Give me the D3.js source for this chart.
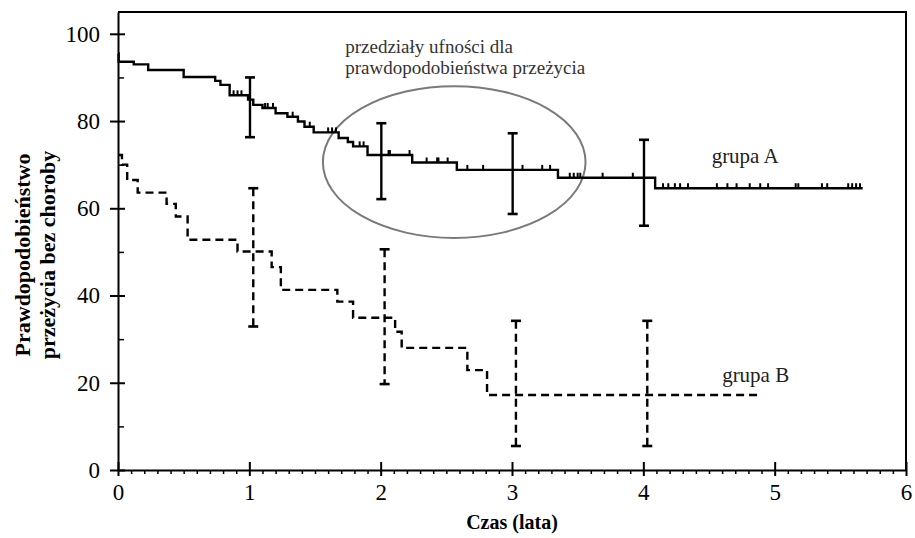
<!DOCTYPE html>
<html>
<head>
<meta charset="utf-8">
<script src="https://cdn.jsdelivr.net/npm/d3@7"></script>
<style>
  body { margin: 0; background: #fff; }
  svg text { font-family: "Liberation Serif", Tinos, "Times New Roman", "DejaVu Serif", serif; }
</style>
</head>
<body>
<script>
//Taille du graphe
var larg = 915;
var haut = 538;
var serif = "'Liberation Serif', Tinos, 'Times New Roman', 'DejaVu Serif', serif";

// grupa A : moments des paliers et survie (%)
var timesA = [0, 0.005, 0.12, 0.23, 0.5, 0.74, 0.78, 0.85, 0.99, 1.03, 1.1, 1.2, 1.29, 1.37, 1.42, 1.49, 1.68, 1.75, 1.79, 1.9, 2.24, 2.58, 3.35, 4.09, 5.67];
var survA  = [95.5, 93.6, 93.0, 91.7, 90.1, 89.2, 88.3, 85.9, 84.9, 83.7, 83.0, 81.8, 81.0, 79.9, 78.7, 77.4, 76.1, 75.2, 74.2, 72.2, 70.5, 68.8, 67.0, 64.6, 64.6];
// obserwacje ucięte grupy A
var censorA = [0.88, 0.91, 0.94, 1.12, 1.14, 1.18, 1.33, 1.46, 1.6, 1.63, 1.66, 1.84, 1.87, 2.06, 2.07, 2.22,
  2.35, 2.43, 2.44, 2.51, 2.66, 2.78, 3.08, 3.23, 3.29, 3.44, 3.47, 3.5, 3.52, 3.69, 3.92,
  4.15, 4.19, 4.24, 4.28, 4.34, 4.56, 4.64, 4.71, 4.81, 4.89, 4.95, 5.16, 5.18, 5.36, 5.4, 5.56, 5.59, 5.62, 5.65];

// grupa B
var timesB = [0, 0.03, 0.07, 0.15, 0.37, 0.44, 0.53, 0.91, 1.17, 1.24, 1.67, 1.79, 2.11, 2.16, 2.66, 2.81, 4.87];
var survB  = [72.2, 70.0, 66.5, 63.6, 61.0, 58.1, 52.8, 50.1, 46.5, 41.3, 38.6, 34.9, 31.7, 28.0, 22.9, 17.2, 17.2];

// przedziały ufności
var ciTimesA = [1.005, 2.005, 3.005, 4.005];
var ciLowA   = [76.3, 62.1, 58.7, 56.0];
var ciHighA  = [90.0, 79.5, 77.2, 75.7];
var ciTimesB = [1.03, 2.03, 3.03, 4.03];
var ciLowB   = [32.9, 19.7, 5.5, 5.5];
var ciHighB  = [64.6, 50.6, 34.2, 34.2];

var xTicks = [0, 1, 2, 3, 4, 5, 6];
var yTicks = [0, 20, 40, 60, 80, 100];
var yMinor = [10, 30, 50, 70, 90];

var x = d3.scaleLinear().domain([0, 6]).range([118, 906]);
var y = d3.scaleLinear().domain([0, 105]).range([470, 12]);

var svg = d3.select("body")
	.append("svg")
	.attr("width", larg)
	.attr("height", haut)
	.attr("font-family", serif);

// cadre haut et droit
svg.append("path")
	.attr("d", "M" + x(0) + "," + y(105) + "H" + x(6) + "V" + y(0))
	.attr("fill", "none")
	.attr("stroke", "#000")
	.attr("stroke-width", 2);

// axe X
var gx = svg.append("g")
	.attr("transform", "translate(0," + y(0) + ")")
	.call(d3.axisBottom(x).tickValues(xTicks).tickSize(6).tickPadding(8).tickSizeOuter(0).tickFormat(d3.format("d")));
gx.selectAll(".tick line").attr("y1", -8).attr("stroke-width", 2);
svg.append("g")
	.attr("transform", "translate(0," + y(0) + ")")
	.call(d3.axisBottom(x).tickValues(d3.range(1, 60).filter(function(i) { return i % 10; }).map(function(i) { return i / 10; }))
		.tickSize(4).tickSizeOuter(0).tickFormat(""))
	.call(function(g) { g.select(".domain").remove(); })
	.selectAll(".tick line").attr("stroke-width", 1.5);

// axe Y
var gy = svg.append("g")
	.attr("transform", "translate(" + x(0) + ",0)")
	.call(d3.axisLeft(y).tickValues(yTicks).tickSize(8).tickPadding(10).tickSizeOuter(0));
gy.selectAll(".tick line").attr("x1", 7).attr("stroke-width", 2);
svg.append("g")
	.attr("transform", "translate(" + x(0) + ",0)")
	.call(d3.axisRight(y).tickValues(yMinor).tickSize(6).tickSizeOuter(0).tickFormat(""))
	.call(function(g) { g.select(".domain").remove(); })
	.selectAll(".tick line").attr("stroke-width", 1.5);

svg.selectAll("g").attr("font-family", serif);
svg.selectAll(".domain").attr("stroke-width", 2);
svg.selectAll(".tick text")
	.attr("font-size", 23)
	.attr("fill", "#000");

// titres des axes
svg.append("text")
	.attr("x", x(3))
	.attr("y", 529)
	.attr("text-anchor", "middle")
	.attr("font-weight", "bold")
	.attr("font-size", 20)
	.text("Czas (lata)");

var ytitle = svg.append("text")
	.attr("transform", "translate(30,255) rotate(-90)")
	.attr("text-anchor", "middle")
	.attr("font-weight", "bold")
	.attr("font-size", 22);
ytitle.append("tspan").attr("x", 0).attr("y", 0).text("Prawdopodobieństwo");
ytitle.append("tspan").attr("x", 0).attr("y", 25).text("przeżycia bez choroby");

// ellipse autour des intervalles
svg.append("ellipse")
	.attr("cx", x(2.56))
	.attr("cy", y(70.6))
	.attr("rx", x(1) - x(0))
	.attr("ry", y(0) - y(17.4))
	.attr("fill", "none")
	.attr("stroke", "#7a7a7a")
	.attr("stroke-width", 2);

// courbes de survie
var step = d3.line()
	.x(function(d) { return x(d[0]); })
	.y(function(d) { return y(d[1]); })
	.curve(d3.curveStepAfter);

svg.append("path")
	.attr("d", step(d3.zip(timesA, survA)))
	.attr("fill", "none")
	.attr("stroke", "#000")
	.attr("stroke-width", 2.4);

svg.append("path")
	.attr("d", step(d3.zip(timesB, survB)))
	.attr("fill", "none")
	.attr("stroke", "#000")
	.attr("stroke-width", 2.4)
	.attr("stroke-dasharray", "8,5");

// marques des censures
svg.selectAll("line.censor")
	.data(censorA)
	.enter()
	.append("line")
	.attr("class", "censor")
	.attr("x1", function(d) { return x(d); })
	.attr("x2", function(d) { return x(d); })
	.attr("y1", function(d) { return y(survA[d3.bisectRight(timesA, d) - 1]); })
	.attr("y2", function(d) { return y(survA[d3.bisectRight(timesA, d) - 1]) - 5; })
	.attr("stroke", "#000")
	.attr("stroke-width", 2);

// barres d'erreur
function errorBars(times, low, high, dash, cls) {
	var g = svg.append("g").attr("stroke", "#000");
	g.selectAll("line.v" + cls)
		.data(times)
		.enter()
		.append("line")
		.attr("class", "v" + cls)
		.attr("x1", function(d) { return x(d); })
		.attr("x2", function(d) { return x(d); })
		.attr("y1", function(d, i) { return y(high[i]); })
		.attr("y2", function(d, i) { return y(low[i]); })
		.attr("stroke-width", 2.4)
		.attr("stroke-dasharray", dash);
	[high, low].forEach(function(arr, k) {
		g.selectAll("line.c" + cls + k)
			.data(times)
			.enter()
			.append("line")
			.attr("class", "c" + cls + k)
			.attr("x1", function(d) { return x(d) - 5; })
			.attr("x2", function(d) { return x(d) + 5; })
			.attr("y1", function(d, i) { return y(arr[i]); })
			.attr("y2", function(d, i) { return y(arr[i]); })
			.attr("stroke-width", 2.6);
	});
}
errorBars(ciTimesA, ciLowA, ciHighA, null, "a");
errorBars(ciTimesB, ciLowB, ciHighB, "8,5", "b");

// etiquettes
svg.append("text")
	.attr("x", x(4.52))
	.attr("y", y(70.4))
	.attr("font-size", 21)
	.attr("fill", "#222")
	.text("grupa A");
svg.append("text")
	.attr("x", x(4.6))
	.attr("y", y(20.2))
	.attr("font-size", 21)
	.attr("fill", "#222")
	.text("grupa B");

var note = svg.append("text")
	.attr("font-size", 19)
	.attr("fill", "#333");
note.append("tspan").attr("x", x(1.73)).attr("y", y(95.6)).text("przedziały ufności dla");
note.append("tspan").attr("x", x(1.73)).attr("y", y(90.8)).text("prawdopodobieństwa przeżycia");
</script>
</body>
</html>
